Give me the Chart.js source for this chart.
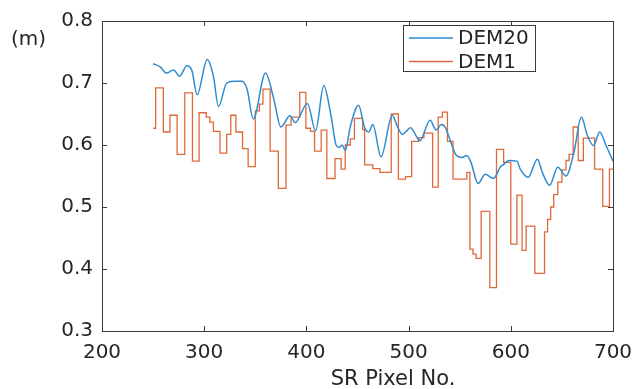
<!DOCTYPE html>
<html><head><meta charset="utf-8">
<script src="https://cdn.jsdelivr.net/npm/chart.js@4/dist/chart.umd.min.js"></script>
<style>html,body{margin:0;padding:0;background:#fff}#wrap{width:643px;height:389px}</style>
</head><body><div id="wrap"><canvas id="c" width="643" height="389"></canvas></div>
<script>
const xTicks = [200, 300, 400, 500, 600, 700];
const yTicks = [0.3, 0.4, 0.5, 0.6, 0.7, 0.8];
const seriesLabels = ['DEM20', 'DEM1'];
const yUnit = '(m)';
const xTitle = 'SR Pixel No.';

const dem20X = [250,257,263,270,276,283,288,293,303,309,314,322,329,337,342,348,360,368,375,384,389,401,409,417,424,429,432,435,438,443,451,457,461,465,473,484,489,494,497,502,507,511,521,527,532,536,541,546,552,557,561,568,575,583,590,594,598,606,609,617,626,631,638,646,654,662,669,675,681,687,693,700];
const dem20Y = [0.731,0.726,0.716,0.721,0.711,0.728,0.72,0.681,0.738,0.711,0.662,0.70,0.703,0.703,0.69,0.642,0.716,0.675,0.629,0.647,0.636,0.667,0.623,0.696,0.648,0.60,0.596,0.60,0.591,0.63,0.664,0.628,0.621,0.633,0.581,0.648,0.63,0.617,0.621,0.628,0.616,0.607,0.64,0.624,0.633,0.628,0.606,0.585,0.58,0.583,0.572,0.538,0.553,0.546,0.565,0.57,0.575,0.574,0.562,0.548,0.577,0.555,0.535,0.564,0.55,0.59,0.645,0.615,0.599,0.621,0.6,0.574];

const dem1X = [250,252.5,260,266.5,273.5,281,288.5,295,302,305.5,309,315.5,322,326,331,337.5,343,350,354,357.5,364.5,372.5,380,385,393.5,399.5,404,408,414.5,420,428,434,438,443,447,455,457,465,472,483,490,497,503,510,515,523.5,529,533,538,543.5,557,560,563,566,571,579.5,586,593,600,606,611,615,623.5,633,636,639,642,646,650,654,657,661,666,671,682,690,696.5,700];
const dem1Y = [0.627,0.692,0.621,0.648,0.585,0.684,0.574,0.652,0.645,0.637,0.622,0.587,0.617,0.648,0.621,0.594,0.565,0.655,0.666,0.69,0.59,0.53,0.632,0.645,0.685,0.627,0.622,0.59,0.624,0.546,0.578,0.561,0.60,0.61,0.643,0.625,0.568,0.562,0.556,0.65,0.545,0.549,0.606,0.612,0.619,0.532,0.645,0.653,0.606,0.545,0.556,0.432,0.424,0.417,0.493,0.37,0.593,0.572,0.44,0.519,0.43,0.469,0.393,0.46,0.48,0.50,0.52,0.54,0.56,0.575,0.585,0.629,0.575,0.611,0.561,0.501,0.561,0.561];

const FONT = 'DejaVu Sans';
const AXIS = '#3a3a3a';
const TXT = '#262626';
const BLUE = '#2f8bd0';
const ORANGE = '#e0693a';

const toPts = (xs, ys) => xs.map((x, i) => ({x: x, y: ys[i]}));

const frame = {
  id: 'frame',
  afterDraw(chart) {
    const {ctx, chartArea: a, scales} = chart;
    const xs = scales.x, ys = scales.y;
    ctx.save();
    ctx.strokeStyle = AXIS;
    ctx.lineWidth = 1;
    ctx.strokeRect(Math.round(a.left) + 0.5, Math.round(a.top) + 0.5, Math.round(a.right - a.left), Math.round(a.bottom - a.top));
    const tl = 5;
    ctx.beginPath();
    xTicks.forEach(v => {
      const p = Math.round(xs.getPixelForValue(v)) + 0.5;
      ctx.moveTo(p, a.bottom); ctx.lineTo(p, a.bottom - tl);
      ctx.moveTo(p, a.top); ctx.lineTo(p, a.top + tl);
    });
    yTicks.forEach(v => {
      const p = Math.round(ys.getPixelForValue(v)) + 0.5;
      ctx.moveTo(a.left, p); ctx.lineTo(a.left + tl, p);
      ctx.moveTo(a.right, p); ctx.lineTo(a.right - tl, p);
    });
    ctx.stroke();
    ctx.fillStyle = TXT;
    ctx.font = '20px "' + FONT + '"';
    ctx.textAlign = 'left';
    ctx.textBaseline = 'middle';
    ctx.fillText(yUnit, 11, 40);
    ctx.font = '21px "' + FONT + '"';
    ctx.textAlign = 'center';
    ctx.textBaseline = 'alphabetic';
    ctx.fillText(xTitle, 393, 385);
    const lx = 403.5, ly = 25.5, lw = 132, lh = 46;
    ctx.fillStyle = '#fff';
    ctx.fillRect(lx, ly, lw, lh);
    ctx.strokeStyle = AXIS;
    ctx.strokeRect(lx, ly, lw, lh);
    ctx.font = '20px "' + FONT + '"';
    ctx.textAlign = 'left';
    ctx.textBaseline = 'middle';
    chart.data.datasets.forEach((ds, i) => {
      const yy = 38 + i * 23.5;
      ctx.strokeStyle = ds.borderColor;
      ctx.lineWidth = 1.5;
      ctx.beginPath(); ctx.moveTo(409, yy); ctx.lineTo(453, yy); ctx.stroke();
      ctx.fillStyle = TXT;
      ctx.fillText(ds.label, 458, yy + 1);
    });
    ctx.restore();
  }
};

new Chart(document.getElementById('c'), {
  type: 'line',
  data: {
    datasets: [
      {label: seriesLabels[0], data: toPts(dem20X, dem20Y), borderColor: BLUE, borderWidth: 1.5, pointRadius: 0, cubicInterpolationMode: 'monotone', fill: false},
      {label: seriesLabels[1], data: toPts(dem1X, dem1Y), borderColor: ORANGE, borderWidth: 1.3, pointRadius: 0, stepped: 'before', fill: false}
    ]
  },
  options: {
    responsive: false,
    animation: false,
    devicePixelRatio: 1,
    layout: {padding: {left: 0, right: 30, top: 13, bottom: 0}},
    plugins: {legend: {display: false}, tooltip: {enabled: false}},
    scales: {
      x: {
        type: 'linear', min: 200, max: 700,
        afterBuildTicks: s => { s.ticks = xTicks.map(v => ({value: v})); },
        afterFit: s => { s.height = 58; },
        grid: {display: false, drawTicks: false},
        border: {display: false},
        ticks: {padding: 10, color: TXT, font: {family: FONT, size: 20}, maxRotation: 0, callback: v => String(v)}
      },
      y: {
        type: 'linear', min: 0.3, max: 0.8,
        afterBuildTicks: s => { s.ticks = yTicks.map(v => ({value: v})); },
        afterFit: s => { s.width = 102; },
        grid: {display: false, drawTicks: false},
        border: {display: false},
        ticks: {padding: 9, color: TXT, font: {family: FONT, size: 20}, callback: v => Number(v).toFixed(1)}
      }
    }
  },
  plugins: [frame]
});
</script>
</body></html>
